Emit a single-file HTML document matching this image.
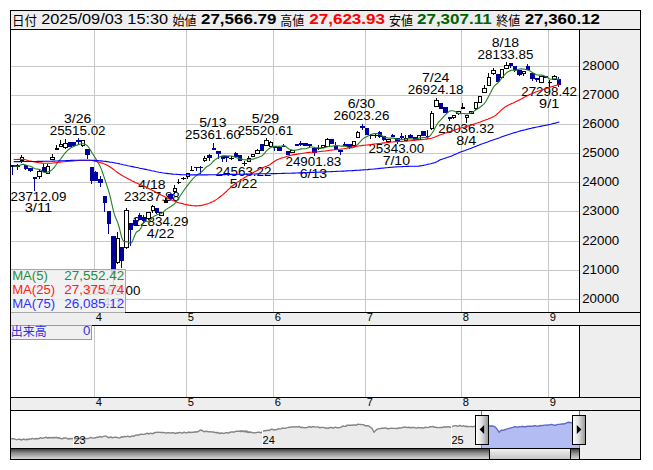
<!DOCTYPE html>
<html><head><meta charset="utf-8"><title>chart</title><style>html,body{margin:0;padding:0;background:#fff}svg{display:block}</style></head><body>
<svg width="653" height="470" viewBox="0 0 653 470" font-family="'Liberation Sans', sans-serif">
<defs><linearGradient id="gh" x1="0" y1="0" x2="1" y2="0"><stop offset="0" stop-color="#ffffff"/><stop offset="0.45" stop-color="#e2e2e2"/><stop offset="1" stop-color="#949494"/></linearGradient><linearGradient id="gs" x1="0" y1="0" x2="0" y2="1"><stop offset="0" stop-color="#2a2a2a"/><stop offset="0.45" stop-color="#8a8a8a"/><stop offset="1" stop-color="#d8d8d8"/></linearGradient><linearGradient id="gt" x1="0" y1="0" x2="0" y2="1"><stop offset="0" stop-color="#f4f4f4"/><stop offset="1" stop-color="#c4c4c4"/></linearGradient></defs>
<rect width="653" height="470" fill="#fff"/>
<rect x="10" y="10" width="631" height="450" fill="#eeeeee"/>
<rect x="11" y="30" width="568" height="282" fill="#fff"/>
<rect x="11" y="326" width="568" height="71" fill="#fff"/>
<rect x="11" y="411" width="568" height="37" fill="#fff"/>
<g stroke="#c8c8c8" stroke-width="1" shape-rendering="crispEdges">
<line x1="11" x2="579" y1="299.5" y2="299.5"/>
<line x1="11" x2="579" y1="270.5" y2="270.5"/>
<line x1="11" x2="579" y1="241.5" y2="241.5"/>
<line x1="11" x2="579" y1="211.5" y2="211.5"/>
<line x1="11" x2="579" y1="182.5" y2="182.5"/>
<line x1="11" x2="579" y1="153.5" y2="153.5"/>
<line x1="11" x2="579" y1="124.5" y2="124.5"/>
<line x1="11" x2="579" y1="95.5" y2="95.5"/>
<line x1="11" x2="579" y1="66.5" y2="66.5"/>
<line x1="94.5" x2="94.5" y1="30" y2="312"/>
<line x1="94.5" x2="94.5" y1="326" y2="397"/>
<line x1="186.5" x2="186.5" y1="30" y2="312"/>
<line x1="186.5" x2="186.5" y1="326" y2="397"/>
<line x1="273.5" x2="273.5" y1="30" y2="312"/>
<line x1="273.5" x2="273.5" y1="326" y2="397"/>
<line x1="365.5" x2="365.5" y1="30" y2="312"/>
<line x1="365.5" x2="365.5" y1="326" y2="397"/>
<line x1="461.5" x2="461.5" y1="30" y2="312"/>
<line x1="461.5" x2="461.5" y1="326" y2="397"/>
<line x1="548.5" x2="548.5" y1="30" y2="312"/>
<line x1="548.5" x2="548.5" y1="326" y2="397"/>
</g>
<text x="49.72" y="134.90" font-size="12.01" fill="#000" textLength="55.84" lengthAdjust="spacingAndGlyphs">25515.02</text>
<text x="63.94" y="122.80" font-size="12.01" fill="#000" textLength="27.39" lengthAdjust="spacingAndGlyphs">3/26</text>
<text x="10.50" y="200.60" font-size="12.01" fill="#000" textLength="55.84" lengthAdjust="spacingAndGlyphs">23712.09</text>
<text x="24.72" y="212.40" font-size="12.01" fill="#000" textLength="27.39" lengthAdjust="spacingAndGlyphs">3/11</text>
<text x="84.64" y="295.00" font-size="12.01" fill="#000" textLength="55.84" lengthAdjust="spacingAndGlyphs">20463.00</text>
<text x="102.56" y="306.80" font-size="12.01" fill="#000" textLength="20.02" lengthAdjust="spacingAndGlyphs">4/7</text>
<text x="123.94" y="201.20" font-size="12.01" fill="#000" textLength="55.84" lengthAdjust="spacingAndGlyphs">23237.88</text>
<text x="138.16" y="189.10" font-size="12.01" fill="#000" textLength="27.39" lengthAdjust="spacingAndGlyphs">4/18</text>
<text x="132.67" y="226.10" font-size="12.01" fill="#000" textLength="55.84" lengthAdjust="spacingAndGlyphs">22834.29</text>
<text x="146.89" y="237.90" font-size="12.01" fill="#000" textLength="27.39" lengthAdjust="spacingAndGlyphs">4/22</text>
<text x="185.06" y="139.40" font-size="12.01" fill="#000" textLength="55.84" lengthAdjust="spacingAndGlyphs">25361.60</text>
<text x="199.28" y="127.30" font-size="12.01" fill="#000" textLength="27.39" lengthAdjust="spacingAndGlyphs">5/13</text>
<text x="215.62" y="175.80" font-size="12.01" fill="#000" textLength="55.84" lengthAdjust="spacingAndGlyphs">24563.22</text>
<text x="229.84" y="187.60" font-size="12.01" fill="#000" textLength="27.39" lengthAdjust="spacingAndGlyphs">5/22</text>
<text x="237.45" y="134.80" font-size="12.01" fill="#000" textLength="55.84" lengthAdjust="spacingAndGlyphs">25520.61</text>
<text x="251.67" y="122.70" font-size="12.01" fill="#000" textLength="27.39" lengthAdjust="spacingAndGlyphs">5/29</text>
<text x="285.47" y="166.00" font-size="12.01" fill="#000" textLength="55.84" lengthAdjust="spacingAndGlyphs">24901.83</text>
<text x="299.70" y="177.80" font-size="12.01" fill="#000" textLength="27.39" lengthAdjust="spacingAndGlyphs">6/13</text>
<text x="333.50" y="120.20" font-size="12.01" fill="#000" textLength="55.84" lengthAdjust="spacingAndGlyphs">26023.26</text>
<text x="347.72" y="108.10" font-size="12.01" fill="#000" textLength="27.39" lengthAdjust="spacingAndGlyphs">6/30</text>
<text x="368.42" y="153.10" font-size="12.01" fill="#000" textLength="55.84" lengthAdjust="spacingAndGlyphs">25343.00</text>
<text x="382.65" y="164.90" font-size="12.01" fill="#000" textLength="27.39" lengthAdjust="spacingAndGlyphs">7/10</text>
<text x="407.71" y="94.00" font-size="12.01" fill="#000" textLength="55.84" lengthAdjust="spacingAndGlyphs">26924.18</text>
<text x="421.94" y="81.90" font-size="12.01" fill="#000" textLength="27.39" lengthAdjust="spacingAndGlyphs">7/24</text>
<text x="438.28" y="133.00" font-size="12.01" fill="#000" textLength="55.84" lengthAdjust="spacingAndGlyphs">26036.32</text>
<text x="456.19" y="144.80" font-size="12.01" fill="#000" textLength="20.02" lengthAdjust="spacingAndGlyphs">8/4</text>
<text x="477.57" y="58.70" font-size="12.01" fill="#000" textLength="55.84" lengthAdjust="spacingAndGlyphs">28133.85</text>
<text x="491.79" y="46.60" font-size="12.01" fill="#000" textLength="27.39" lengthAdjust="spacingAndGlyphs">8/18</text>
<text x="521.23" y="96.30" font-size="12.01" fill="#000" textLength="55.84" lengthAdjust="spacingAndGlyphs">27298.42</text>
<text x="539.14" y="108.10" font-size="12.01" fill="#000" textLength="20.02" lengthAdjust="spacingAndGlyphs">9/1</text>
<g shape-rendering="crispEdges">
<rect x="12" y="165" width="1" height="10" fill="#0000a0"/>
<rect x="11" y="165" width="4" height="2" fill="#0000a0"/>
<rect x="17" y="164" width="1" height="6" fill="#000"/>
<rect x="15" y="165" width="5" height="2" fill="#000"/>
<rect x="21" y="155" width="1" height="8" fill="#000"/>
<rect x="20" y="157" width="4" height="4" fill="#000"/>
<rect x="21" y="158" width="2" height="2" fill="#fff"/>
<rect x="25" y="165" width="1" height="5" fill="#0000a0"/>
<rect x="24" y="165" width="4" height="4" fill="#0000a0"/>
<rect x="30" y="168" width="1" height="4" fill="#0000a0"/>
<rect x="28" y="168" width="5" height="3" fill="#0000a0"/>
<rect x="34" y="177" width="1" height="14" fill="#0000a0"/>
<rect x="33" y="177" width="4" height="2" fill="#0000a0"/>
<rect x="39" y="170" width="1" height="9" fill="#000"/>
<rect x="37" y="171" width="5" height="6" fill="#000"/>
<rect x="38" y="172" width="3" height="4" fill="#fff"/>
<rect x="43" y="164" width="1" height="8" fill="#0000a0"/>
<rect x="42" y="167" width="4" height="5" fill="#0000a0"/>
<rect x="47" y="164" width="1" height="10" fill="#000"/>
<rect x="46" y="166" width="4" height="8" fill="#000"/>
<rect x="47" y="167" width="2" height="6" fill="#fff"/>
<rect x="52" y="154" width="1" height="6" fill="#000"/>
<rect x="50" y="157" width="5" height="3" fill="#000"/>
<rect x="51" y="158" width="3" height="1" fill="#fff"/>
<rect x="56" y="145" width="1" height="5" fill="#000"/>
<rect x="55" y="148" width="4" height="2" fill="#000"/>
<rect x="60" y="140" width="1" height="7" fill="#000"/>
<rect x="59" y="144" width="4" height="3" fill="#000"/>
<rect x="60" y="145" width="2" height="1" fill="#fff"/>
<rect x="65" y="139" width="1" height="10" fill="#000"/>
<rect x="63" y="143" width="5" height="5" fill="#000"/>
<rect x="64" y="144" width="3" height="3" fill="#fff"/>
<rect x="69" y="142" width="1" height="5" fill="#0000a0"/>
<rect x="68" y="142" width="4" height="5" fill="#0000a0"/>
<rect x="73" y="142" width="1" height="5" fill="#0000a0"/>
<rect x="72" y="142" width="4" height="4" fill="#0000a0"/>
<rect x="78" y="138" width="1" height="6" fill="#0000a0"/>
<rect x="76" y="140" width="5" height="2" fill="#0000a0"/>
<rect x="82" y="140" width="1" height="7" fill="#000"/>
<rect x="81" y="140" width="4" height="6" fill="#000"/>
<rect x="82" y="141" width="2" height="4" fill="#fff"/>
<rect x="87" y="149" width="1" height="10" fill="#0000a0"/>
<rect x="85" y="149" width="5" height="6" fill="#0000a0"/>
<rect x="91" y="167" width="1" height="17" fill="#0000a0"/>
<rect x="90" y="167" width="4" height="14" fill="#0000a0"/>
<rect x="95" y="171" width="1" height="10" fill="#0000a0"/>
<rect x="94" y="172" width="4" height="9" fill="#0000a0"/>
<rect x="100" y="176" width="1" height="11" fill="#0000a0"/>
<rect x="98" y="179" width="5" height="4" fill="#0000a0"/>
<rect x="104" y="196" width="1" height="16" fill="#0000a0"/>
<rect x="103" y="196" width="4" height="7" fill="#0000a0"/>
<rect x="108" y="211" width="1" height="23" fill="#0000a0"/>
<rect x="107" y="211" width="4" height="13" fill="#0000a0"/>
<rect x="113" y="236" width="1" height="49" fill="#0000a0"/>
<rect x="111" y="236" width="5" height="38" fill="#0000a0"/>
<rect x="117" y="232" width="1" height="32" fill="#000"/>
<rect x="116" y="238" width="4" height="25" fill="#000"/>
<rect x="117" y="239" width="2" height="23" fill="#fff"/>
<rect x="121" y="247" width="1" height="21" fill="#0000a0"/>
<rect x="120" y="247" width="4" height="14" fill="#0000a0"/>
<rect x="126" y="208" width="1" height="41" fill="#000"/>
<rect x="124" y="210" width="5" height="38" fill="#000"/>
<rect x="125" y="211" width="3" height="36" fill="#fff"/>
<rect x="130" y="223" width="1" height="23" fill="#0000a0"/>
<rect x="129" y="223" width="4" height="7" fill="#0000a0"/>
<rect x="135" y="218" width="1" height="7" fill="#0000a0"/>
<rect x="133" y="220" width="5" height="5" fill="#0000a0"/>
<rect x="139" y="213" width="1" height="7" fill="#0000a0"/>
<rect x="138" y="215" width="4" height="5" fill="#0000a0"/>
<rect x="143" y="215" width="1" height="8" fill="#0000a0"/>
<rect x="142" y="217" width="4" height="4" fill="#0000a0"/>
<rect x="148" y="212" width="1" height="8" fill="#000"/>
<rect x="146" y="212" width="5" height="7" fill="#000"/>
<rect x="147" y="213" width="3" height="5" fill="#fff"/>
<rect x="152" y="205" width="1" height="8" fill="#000"/>
<rect x="151" y="206" width="4" height="5" fill="#000"/>
<rect x="152" y="207" width="2" height="3" fill="#fff"/>
<rect x="156" y="208" width="1" height="6" fill="#0000a0"/>
<rect x="155" y="208" width="4" height="5" fill="#0000a0"/>
<rect x="161" y="212" width="1" height="4" fill="#000"/>
<rect x="159" y="212" width="5" height="4" fill="#000"/>
<rect x="160" y="213" width="3" height="2" fill="#fff"/>
<rect x="165" y="198" width="1" height="5" fill="#000"/>
<rect x="164" y="200" width="4" height="3" fill="#000"/>
<rect x="170" y="194" width="1" height="5" fill="#0000a0"/>
<rect x="168" y="194" width="5" height="5" fill="#0000a0"/>
<rect x="174" y="185" width="1" height="9" fill="#000"/>
<rect x="173" y="188" width="4" height="4" fill="#000"/>
<rect x="174" y="189" width="2" height="2" fill="#fff"/>
<rect x="178" y="179" width="1" height="5" fill="#000"/>
<rect x="177" y="182" width="4" height="1" fill="#000"/>
<rect x="183" y="177" width="1" height="3" fill="#000"/>
<rect x="181" y="178" width="5" height="1" fill="#000"/>
<rect x="187" y="173" width="1" height="6" fill="#000"/>
<rect x="186" y="173" width="4" height="4" fill="#000"/>
<rect x="187" y="174" width="2" height="2" fill="#fff"/>
<rect x="191" y="166" width="1" height="5" fill="#000"/>
<rect x="190" y="170" width="4" height="1" fill="#000"/>
<rect x="196" y="167" width="1" height="4" fill="#0000a0"/>
<rect x="194" y="167" width="5" height="1" fill="#0000a0"/>
<rect x="200" y="166" width="1" height="8" fill="#0000a0"/>
<rect x="199" y="167" width="4" height="1" fill="#0000a0"/>
<rect x="204" y="156" width="1" height="6" fill="#000"/>
<rect x="203" y="158" width="4" height="3" fill="#000"/>
<rect x="204" y="159" width="2" height="1" fill="#fff"/>
<rect x="209" y="154" width="1" height="7" fill="#0000a0"/>
<rect x="207" y="155" width="5" height="3" fill="#0000a0"/>
<rect x="213" y="143" width="1" height="7" fill="#0000a0"/>
<rect x="212" y="148" width="4" height="2" fill="#0000a0"/>
<rect x="218" y="151" width="1" height="8" fill="#0000a0"/>
<rect x="216" y="151" width="5" height="3" fill="#0000a0"/>
<rect x="222" y="156" width="1" height="6" fill="#0000a0"/>
<rect x="221" y="156" width="4" height="3" fill="#0000a0"/>
<rect x="226" y="156" width="1" height="6" fill="#0000a0"/>
<rect x="225" y="156" width="4" height="2" fill="#0000a0"/>
<rect x="231" y="156" width="1" height="4" fill="#000"/>
<rect x="229" y="158" width="5" height="1" fill="#000"/>
<rect x="235" y="152" width="1" height="6" fill="#0000a0"/>
<rect x="234" y="153" width="4" height="4" fill="#0000a0"/>
<rect x="239" y="155" width="1" height="6" fill="#0000a0"/>
<rect x="238" y="155" width="4" height="6" fill="#0000a0"/>
<rect x="244" y="161" width="1" height="5" fill="#000"/>
<rect x="242" y="163" width="5" height="1" fill="#000"/>
<rect x="248" y="156" width="1" height="6" fill="#000"/>
<rect x="247" y="158" width="4" height="4" fill="#000"/>
<rect x="248" y="159" width="2" height="2" fill="#fff"/>
<rect x="252" y="154" width="1" height="3" fill="#000"/>
<rect x="251" y="154" width="4" height="3" fill="#000"/>
<rect x="252" y="155" width="2" height="1" fill="#fff"/>
<rect x="257" y="149" width="1" height="5" fill="#000"/>
<rect x="255" y="150" width="5" height="4" fill="#000"/>
<rect x="256" y="151" width="3" height="2" fill="#fff"/>
<rect x="261" y="144" width="1" height="7" fill="#0000a0"/>
<rect x="260" y="144" width="4" height="7" fill="#0000a0"/>
<rect x="266" y="138" width="1" height="8" fill="#000"/>
<rect x="264" y="140" width="5" height="6" fill="#000"/>
<rect x="265" y="141" width="3" height="4" fill="#fff"/>
<rect x="270" y="141" width="1" height="6" fill="#000"/>
<rect x="269" y="142" width="4" height="5" fill="#000"/>
<rect x="270" y="143" width="2" height="3" fill="#fff"/>
<rect x="274" y="146" width="1" height="5" fill="#0000a0"/>
<rect x="273" y="146" width="4" height="2" fill="#0000a0"/>
<rect x="279" y="147" width="1" height="4" fill="#0000a0"/>
<rect x="277" y="147" width="5" height="4" fill="#0000a0"/>
<rect x="283" y="144" width="1" height="3" fill="#0000a0"/>
<rect x="282" y="146" width="4" height="1" fill="#0000a0"/>
<rect x="287" y="151" width="1" height="4" fill="#0000a0"/>
<rect x="286" y="151" width="4" height="4" fill="#0000a0"/>
<rect x="292" y="150" width="1" height="3" fill="#000"/>
<rect x="290" y="150" width="5" height="3" fill="#000"/>
<rect x="291" y="151" width="3" height="1" fill="#fff"/>
<rect x="296" y="144" width="1" height="2" fill="#0000a0"/>
<rect x="295" y="144" width="4" height="2" fill="#0000a0"/>
<rect x="300" y="141" width="1" height="5" fill="#0000a0"/>
<rect x="299" y="143" width="4" height="2" fill="#0000a0"/>
<rect x="305" y="143" width="1" height="3" fill="#0000a0"/>
<rect x="303" y="143" width="5" height="3" fill="#0000a0"/>
<rect x="309" y="144" width="1" height="4" fill="#0000a0"/>
<rect x="308" y="144" width="4" height="2" fill="#0000a0"/>
<rect x="314" y="148" width="1" height="8" fill="#0000a0"/>
<rect x="312" y="148" width="5" height="5" fill="#0000a0"/>
<rect x="318" y="145" width="1" height="5" fill="#000"/>
<rect x="317" y="148" width="4" height="1" fill="#000"/>
<rect x="322" y="145" width="1" height="3" fill="#000"/>
<rect x="321" y="145" width="4" height="3" fill="#000"/>
<rect x="322" y="146" width="2" height="1" fill="#fff"/>
<rect x="327" y="138" width="1" height="9" fill="#000"/>
<rect x="325" y="139" width="5" height="8" fill="#000"/>
<rect x="326" y="140" width="3" height="6" fill="#fff"/>
<rect x="331" y="139" width="1" height="5" fill="#0000a0"/>
<rect x="330" y="139" width="4" height="5" fill="#0000a0"/>
<rect x="335" y="142" width="1" height="8" fill="#0000a0"/>
<rect x="334" y="146" width="4" height="4" fill="#0000a0"/>
<rect x="340" y="150" width="1" height="5" fill="#0000a0"/>
<rect x="338" y="150" width="5" height="2" fill="#0000a0"/>
<rect x="344" y="142" width="1" height="4" fill="#0000a0"/>
<rect x="343" y="144" width="4" height="2" fill="#0000a0"/>
<rect x="349" y="144" width="1" height="5" fill="#0000a0"/>
<rect x="347" y="144" width="5" height="3" fill="#0000a0"/>
<rect x="353" y="141" width="1" height="5" fill="#000"/>
<rect x="352" y="141" width="4" height="5" fill="#000"/>
<rect x="353" y="142" width="2" height="3" fill="#fff"/>
<rect x="357" y="131" width="1" height="7" fill="#000"/>
<rect x="356" y="132" width="4" height="6" fill="#000"/>
<rect x="357" y="133" width="2" height="4" fill="#fff"/>
<rect x="362" y="124" width="1" height="6" fill="#0000a0"/>
<rect x="360" y="126" width="5" height="2" fill="#0000a0"/>
<rect x="366" y="128" width="1" height="7" fill="#0000a0"/>
<rect x="365" y="128" width="4" height="7" fill="#0000a0"/>
<rect x="370" y="134" width="1" height="5" fill="#000"/>
<rect x="369" y="135" width="4" height="1" fill="#000"/>
<rect x="375" y="134" width="1" height="4" fill="#000"/>
<rect x="373" y="135" width="5" height="1" fill="#000"/>
<rect x="379" y="131" width="1" height="7" fill="#0000a0"/>
<rect x="378" y="132" width="4" height="5" fill="#0000a0"/>
<rect x="383" y="136" width="1" height="5" fill="#0000a0"/>
<rect x="382" y="136" width="4" height="4" fill="#0000a0"/>
<rect x="388" y="139" width="1" height="3" fill="#000"/>
<rect x="386" y="139" width="5" height="3" fill="#000"/>
<rect x="387" y="140" width="3" height="1" fill="#fff"/>
<rect x="392" y="134" width="1" height="3" fill="#0000a0"/>
<rect x="391" y="135" width="4" height="2" fill="#0000a0"/>
<rect x="397" y="138" width="1" height="6" fill="#0000a0"/>
<rect x="395" y="138" width="5" height="4" fill="#0000a0"/>
<rect x="401" y="133" width="1" height="6" fill="#0000a0"/>
<rect x="400" y="136" width="4" height="2" fill="#0000a0"/>
<rect x="405" y="135" width="1" height="6" fill="#000"/>
<rect x="404" y="138" width="4" height="3" fill="#000"/>
<rect x="405" y="139" width="2" height="1" fill="#fff"/>
<rect x="410" y="134" width="1" height="4" fill="#0000a0"/>
<rect x="408" y="135" width="5" height="3" fill="#0000a0"/>
<rect x="414" y="137" width="1" height="4" fill="#0000a0"/>
<rect x="413" y="137" width="4" height="3" fill="#0000a0"/>
<rect x="418" y="135" width="1" height="5" fill="#000"/>
<rect x="417" y="135" width="4" height="5" fill="#000"/>
<rect x="418" y="136" width="2" height="3" fill="#fff"/>
<rect x="423" y="131" width="1" height="5" fill="#0000a0"/>
<rect x="421" y="131" width="5" height="5" fill="#0000a0"/>
<rect x="427" y="130" width="1" height="9" fill="#0000a0"/>
<rect x="426" y="136" width="4" height="1" fill="#0000a0"/>
<rect x="431" y="111" width="1" height="19" fill="#000"/>
<rect x="430" y="113" width="4" height="16" fill="#000"/>
<rect x="431" y="114" width="2" height="14" fill="#fff"/>
<rect x="436" y="98" width="1" height="9" fill="#000"/>
<rect x="434" y="100" width="5" height="7" fill="#000"/>
<rect x="435" y="101" width="3" height="5" fill="#fff"/>
<rect x="440" y="103" width="1" height="6" fill="#0000a0"/>
<rect x="439" y="103" width="4" height="6" fill="#0000a0"/>
<rect x="445" y="107" width="1" height="6" fill="#0000a0"/>
<rect x="443" y="107" width="5" height="6" fill="#0000a0"/>
<rect x="449" y="117" width="1" height="4" fill="#0000a0"/>
<rect x="448" y="117" width="4" height="2" fill="#0000a0"/>
<rect x="453" y="115" width="1" height="4" fill="#000"/>
<rect x="452" y="115" width="4" height="3" fill="#000"/>
<rect x="453" y="116" width="2" height="1" fill="#fff"/>
<rect x="458" y="111" width="1" height="4" fill="#000"/>
<rect x="456" y="111" width="5" height="3" fill="#000"/>
<rect x="457" y="112" width="3" height="1" fill="#fff"/>
<rect x="462" y="103" width="1" height="6" fill="#000"/>
<rect x="461" y="107" width="4" height="2" fill="#000"/>
<rect x="466" y="115" width="1" height="8" fill="#000"/>
<rect x="465" y="115" width="4" height="3" fill="#000"/>
<rect x="466" y="116" width="2" height="1" fill="#fff"/>
<rect x="471" y="111" width="1" height="3" fill="#000"/>
<rect x="469" y="111" width="5" height="3" fill="#000"/>
<rect x="470" y="112" width="3" height="1" fill="#fff"/>
<rect x="475" y="102" width="1" height="8" fill="#000"/>
<rect x="474" y="102" width="4" height="7" fill="#000"/>
<rect x="475" y="103" width="2" height="5" fill="#fff"/>
<rect x="479" y="96" width="1" height="7" fill="#000"/>
<rect x="478" y="96" width="4" height="7" fill="#000"/>
<rect x="479" y="97" width="2" height="5" fill="#fff"/>
<rect x="484" y="85" width="1" height="8" fill="#000"/>
<rect x="482" y="88" width="5" height="5" fill="#000"/>
<rect x="483" y="89" width="3" height="3" fill="#fff"/>
<rect x="488" y="73" width="1" height="13" fill="#000"/>
<rect x="487" y="77" width="4" height="9" fill="#000"/>
<rect x="488" y="78" width="2" height="7" fill="#fff"/>
<rect x="493" y="68" width="1" height="7" fill="#000"/>
<rect x="491" y="70" width="5" height="4" fill="#000"/>
<rect x="492" y="71" width="3" height="2" fill="#fff"/>
<rect x="497" y="74" width="1" height="8" fill="#0000a0"/>
<rect x="496" y="74" width="4" height="8" fill="#0000a0"/>
<rect x="501" y="69" width="1" height="9" fill="#000"/>
<rect x="500" y="69" width="4" height="9" fill="#000"/>
<rect x="501" y="70" width="2" height="7" fill="#fff"/>
<rect x="506" y="62" width="1" height="7" fill="#000"/>
<rect x="504" y="65" width="5" height="4" fill="#000"/>
<rect x="505" y="66" width="3" height="2" fill="#fff"/>
<rect x="510" y="63" width="1" height="5" fill="#0000a0"/>
<rect x="509" y="63" width="4" height="3" fill="#0000a0"/>
<rect x="514" y="66" width="1" height="6" fill="#0000a0"/>
<rect x="513" y="66" width="4" height="4" fill="#0000a0"/>
<rect x="519" y="70" width="1" height="6" fill="#0000a0"/>
<rect x="517" y="70" width="5" height="5" fill="#0000a0"/>
<rect x="523" y="71" width="1" height="5" fill="#000"/>
<rect x="522" y="71" width="4" height="3" fill="#000"/>
<rect x="523" y="72" width="2" height="1" fill="#fff"/>
<rect x="527" y="64" width="1" height="6" fill="#0000a0"/>
<rect x="526" y="66" width="4" height="4" fill="#0000a0"/>
<rect x="532" y="73" width="1" height="8" fill="#0000a0"/>
<rect x="530" y="73" width="5" height="6" fill="#0000a0"/>
<rect x="536" y="78" width="1" height="4" fill="#0000a0"/>
<rect x="535" y="78" width="4" height="2" fill="#0000a0"/>
<rect x="541" y="76" width="1" height="7" fill="#000"/>
<rect x="539" y="76" width="5" height="7" fill="#000"/>
<rect x="540" y="77" width="3" height="5" fill="#fff"/>
<rect x="545" y="76" width="1" height="2" fill="#0000a0"/>
<rect x="544" y="76" width="4" height="2" fill="#0000a0"/>
<rect x="549" y="80" width="1" height="7" fill="#000"/>
<rect x="548" y="82" width="4" height="1" fill="#000"/>
<rect x="554" y="75" width="1" height="5" fill="#000"/>
<rect x="552" y="76" width="5" height="4" fill="#000"/>
<rect x="553" y="77" width="3" height="2" fill="#fff"/>
<rect x="558" y="77" width="1" height="10" fill="#0000a0"/>
<rect x="557" y="79" width="4" height="6" fill="#0000a0"/>
</g>
<polyline fill="none" stroke="#1e821e" stroke-width="1.1" stroke-linejoin="round" points="13.6,165.9 14.6,166.0 15.6,166.1 16.6,166.2 17.6,166.2 18.6,166.0 19.6,165.5 20.6,165.0 21.6,164.5 22.6,164.3 23.6,164.4 24.6,164.7 25.6,165.0 26.6,165.3 27.6,165.5 28.6,165.8 29.6,166.0 30.6,166.4 31.6,166.8 32.6,167.3 33.6,167.9 34.6,168.4 35.6,168.8 36.6,169.0 37.6,169.1 38.6,169.2 39.6,169.4 40.6,169.9 41.6,170.7 42.6,171.6 43.6,172.2 44.6,172.5 45.6,172.6 46.6,172.4 47.6,172.1 48.6,171.7 49.6,171.3 50.6,170.7 51.6,170.1 52.6,169.2 53.6,168.2 54.6,166.9 55.6,165.5 56.6,164.0 57.6,162.7 58.6,161.5 59.6,160.2 60.6,159.0 61.6,157.7 62.6,156.4 63.6,155.0 64.6,153.7 65.6,152.4 66.6,151.3 67.6,150.4 68.6,149.5 69.6,148.7 70.6,148.0 71.6,147.4 72.6,146.9 73.6,146.5 74.6,146.1 75.6,145.7 76.6,145.3 77.6,144.9 78.6,144.6 79.6,144.3 80.6,144.0 81.6,143.8 82.6,143.7 83.6,143.8 84.6,144.1 85.6,144.5 86.6,145.1 87.6,146.0 88.6,147.2 89.6,148.7 90.6,150.4 91.6,152.1 92.6,153.7 93.6,155.2 94.6,156.8 95.6,158.4 96.6,160.1 97.6,161.8 98.6,163.5 99.6,165.3 100.6,167.4 101.6,169.9 102.6,172.7 103.6,175.6 104.6,178.7 105.6,181.7 106.6,184.7 107.6,187.7 108.6,190.8 109.6,194.3 110.6,198.3 111.6,202.9 112.6,207.4 113.6,211.6 114.6,214.9 115.6,217.6 116.6,219.9 117.6,222.4 118.6,225.3 119.6,229.0 120.6,233.1 121.6,237.0 122.6,239.8 123.6,241.3 124.6,241.7 125.6,241.6 126.6,241.5 127.6,241.8 128.6,242.4 129.6,243.1 130.6,243.3 131.6,242.7 132.6,240.9 133.6,238.4 134.6,235.7 135.6,233.4 136.6,232.0 137.6,231.2 138.6,230.7 139.6,229.9 140.6,228.7 141.6,226.8 142.6,224.6 143.6,222.7 144.6,221.4 145.6,221.0 146.6,221.3 147.6,221.8 148.6,221.9 149.6,221.3 150.6,220.2 151.6,218.8 152.6,217.5 153.6,216.6 154.6,215.9 155.6,215.4 156.6,215.0 157.6,214.6 158.6,214.2 159.6,214.0 160.6,213.7 161.6,213.3 162.6,212.7 163.6,211.8 164.6,210.9 165.6,209.9 166.6,209.1 167.6,208.5 168.6,207.9 169.6,207.3 170.6,206.7 171.6,206.0 172.6,205.3 173.6,204.6 174.6,203.7 175.6,202.6 176.6,201.3 177.6,199.8 178.6,198.3 179.6,196.8 180.6,195.3 181.6,193.8 182.6,192.3 183.6,190.8 184.6,189.4 185.6,188.0 186.6,186.7 187.6,185.4 188.6,184.1 189.6,182.8 190.6,181.5 191.6,180.3 192.6,179.1 193.6,178.0 194.6,177.1 195.6,176.2 196.6,175.3 197.6,174.5 198.6,173.9 199.6,173.3 200.6,172.6 201.6,171.8 202.6,170.8 203.6,169.8 204.6,168.7 205.6,167.7 206.6,166.9 207.6,166.3 208.6,165.7 209.6,165.0 210.6,164.1 211.6,163.1 212.6,162.0 213.6,161.0 214.6,160.1 215.6,159.4 216.6,158.7 217.6,158.1 218.6,157.6 219.6,157.1 220.6,156.6 221.6,156.2 222.6,155.9 223.6,155.8 224.6,155.7 225.6,155.8 226.6,155.9 227.6,156.0 228.6,156.0 229.6,155.9 230.6,156.0 231.6,156.0 232.6,156.3 233.6,156.6 234.6,157.0 235.6,157.4 236.6,157.8 237.6,158.1 238.6,158.4 239.6,158.7 240.6,158.9 241.6,159.2 242.6,159.4 243.6,159.7 244.6,159.8 245.6,159.9 246.6,159.9 247.6,159.9 248.6,159.8 249.6,159.7 250.6,159.5 251.6,159.3 252.6,159.1 253.6,158.9 254.6,158.6 255.6,158.2 256.6,157.9 257.6,157.5 258.6,157.2 259.6,156.8 260.6,156.5 261.6,156.0 262.6,155.3 263.6,154.3 264.6,153.1 265.6,151.8 266.6,150.7 267.6,149.8 268.6,149.0 269.6,148.3 270.6,147.7 271.6,147.3 272.6,146.9 273.6,146.6 274.6,146.4 275.6,146.3 276.6,146.2 277.6,146.3 278.6,146.4 279.6,146.4 280.6,146.3 281.6,146.0 282.6,145.7 283.6,145.6 284.6,145.7 285.6,146.3 286.6,147.1 287.6,148.0 288.6,148.7 289.6,149.2 290.6,149.6 291.6,149.9 292.6,150.2 293.6,150.3 294.6,150.3 295.6,150.2 296.6,150.0 297.6,149.8 298.6,149.6 299.6,149.3 300.6,149.1 301.6,148.9 302.6,148.8 303.6,148.8 304.6,148.8 305.6,148.8 306.6,148.5 307.6,148.1 308.6,147.7 309.6,147.2 310.6,147.0 311.6,147.0 312.6,147.1 313.6,147.3 314.6,147.5 315.6,147.7 316.6,147.8 317.6,147.9 318.6,148.0 319.6,148.1 320.6,148.1 321.6,148.1 322.6,148.1 323.6,148.0 324.6,147.7 325.6,147.4 326.6,147.0 327.6,146.7 328.6,146.5 329.6,146.4 330.6,146.3 331.6,146.2 332.6,146.1 333.6,145.9 334.6,145.7 335.6,145.6 336.6,145.5 337.6,145.6 338.6,145.7 339.6,145.9 340.6,146.0 341.6,146.1 342.6,146.1 343.6,146.1 344.6,146.2 345.6,146.3 346.6,146.7 347.6,147.1 348.6,147.6 349.6,147.8 350.6,147.9 351.6,147.9 352.6,147.8 353.6,147.5 354.6,147.0 355.6,146.3 356.6,145.4 357.6,144.5 358.6,143.5 359.6,142.4 360.6,141.3 361.6,140.1 362.6,139.1 363.6,138.4 364.6,137.8 365.6,137.3 366.6,136.8 367.6,136.3 368.6,135.8 369.6,135.3 370.6,134.8 371.6,134.4 372.6,134.1 373.6,133.8 374.6,133.6 375.6,133.5 376.6,133.6 377.6,133.8 378.6,134.0 379.6,134.4 380.6,134.8 381.6,135.3 382.6,136.0 383.6,136.6 384.6,137.1 385.6,137.4 386.6,137.7 387.6,137.9 388.6,138.0 389.6,138.1 390.6,138.1 391.6,138.1 392.6,138.1 393.6,138.1 394.6,138.4 395.6,138.7 396.6,139.0 397.6,139.2 398.6,139.4 399.6,139.4 400.6,139.5 401.6,139.5 402.6,139.4 403.6,139.3 404.6,139.2 405.6,139.1 406.6,139.0 407.6,138.9 408.6,138.9 409.6,138.9 410.6,138.9 411.6,138.9 412.6,139.1 413.6,139.3 414.6,139.4 415.6,139.3 416.6,139.0 417.6,138.6 418.6,138.2 419.6,137.9 420.6,137.8 421.6,137.7 422.6,137.6 423.6,137.5 424.6,137.5 425.6,137.6 426.6,137.7 427.6,137.6 428.6,137.1 429.6,136.2 430.6,135.1 431.6,133.8 432.6,132.4 433.6,130.7 434.6,128.8 435.6,126.9 436.6,125.0 437.6,123.5 438.6,122.2 439.6,121.1 440.6,120.0 441.6,118.9 442.6,117.8 443.6,116.7 444.6,115.7 445.6,114.7 446.6,113.7 447.6,112.7 448.6,111.9 449.6,111.2 450.6,110.8 451.6,110.7 452.6,110.8 453.6,111.0 454.6,111.3 455.6,111.8 456.6,112.3 457.6,112.9 458.6,113.4 459.6,113.6 460.6,113.6 461.6,113.5 462.6,113.5 463.6,113.5 464.6,113.6 465.6,113.8 466.6,113.9 467.6,113.9 468.6,113.7 469.6,113.3 470.6,112.9 471.6,112.4 472.6,111.9 473.6,111.4 474.6,110.7 475.6,110.1 476.6,109.5 477.6,108.9 478.6,108.2 479.6,107.5 480.6,106.8 481.6,106.0 482.6,105.2 483.6,104.3 484.6,103.2 485.6,101.8 486.6,100.2 487.6,98.3 488.6,96.4 489.6,94.6 490.6,92.7 491.6,90.6 492.6,88.7 493.6,87.0 494.6,85.7 495.6,84.8 496.6,84.0 497.6,83.1 498.6,82.1 499.6,80.9 500.6,79.6 501.6,78.3 502.6,77.1 503.6,75.9 504.6,74.8 505.6,73.7 506.6,72.8 507.6,72.0 508.6,71.4 509.6,70.9 510.6,70.6 511.6,70.3 512.6,70.2 513.6,70.3 514.6,70.4 515.6,70.4 516.6,70.1 517.6,69.7 518.6,69.3 519.6,69.0 520.6,68.9 521.6,68.9 522.6,69.0 523.6,69.1 524.6,69.3 525.6,69.5 526.6,69.7 527.6,69.9 528.6,70.3 529.6,70.7 530.6,71.3 531.6,72.0 532.6,72.6 533.6,73.2 534.6,73.7 535.6,74.2 536.6,74.7 537.6,75.0 538.6,75.1 539.6,75.1 540.6,75.0 541.6,75.1 542.6,75.3 543.6,75.6 544.6,76.0 545.6,76.4 546.6,76.9 547.6,77.5 548.6,78.2 549.6,78.9 550.6,79.3 551.6,79.3 552.6,79.1 553.6,78.9 554.6,78.8 555.6,78.8 556.6,79.0 557.6,79.3 558.6,79.6 559.4,79.8"/>
<polyline fill="none" stroke="#ff0000" stroke-width="1.1" stroke-linejoin="round" points="13.7,159.5 15.2,159.5 16.7,159.5 18.2,159.4 19.7,159.4 21.2,159.4 22.7,159.5 24.2,159.6 25.7,159.8 27.2,160.2 28.7,160.7 30.2,161.0 31.7,161.4 33.2,161.7 34.7,162.0 36.2,162.2 37.7,162.5 39.2,162.8 40.7,162.9 42.2,163.1 43.7,163.2 45.2,163.3 46.7,163.3 48.2,163.3 49.7,163.3 51.2,163.2 52.7,163.0 54.2,162.9 55.7,162.7 57.2,162.5 58.7,162.3 60.2,162.1 61.7,162.0 63.2,161.8 64.7,161.7 66.2,161.5 67.7,161.4 69.2,161.2 70.7,161.1 72.2,161.0 73.7,160.9 75.2,160.8 76.7,160.7 78.2,160.5 79.7,160.4 81.2,160.3 82.7,160.2 84.2,160.2 85.7,160.2 87.2,160.2 88.7,160.2 90.2,160.3 91.7,160.5 93.2,160.7 94.7,161.1 96.2,161.5 97.7,161.9 99.2,162.3 100.7,162.7 102.2,163.1 103.7,163.7 105.2,164.3 106.7,165.0 108.2,165.8 109.7,166.7 111.2,167.7 112.7,168.8 114.2,169.9 115.7,171.1 117.2,172.2 118.7,173.3 120.2,174.3 121.7,175.2 123.2,176.1 124.7,176.9 126.2,177.8 127.7,178.6 129.2,179.4 130.7,180.1 132.2,180.9 133.7,181.6 135.2,182.4 136.7,183.1 138.2,183.7 139.7,184.4 141.2,185.0 142.7,185.7 144.2,186.3 145.7,187.0 147.2,187.7 148.7,188.4 150.2,189.2 151.7,190.0 153.2,190.8 154.7,191.6 156.2,192.4 157.7,193.2 159.2,194.0 160.7,194.8 162.2,195.5 163.7,196.3 165.2,197.1 166.7,197.8 168.2,198.5 169.7,199.2 171.2,199.8 172.7,200.5 174.2,201.1 175.7,201.6 177.2,202.2 178.7,202.7 180.2,203.1 181.7,203.5 183.2,203.9 184.7,204.3 186.2,204.6 187.7,204.9 189.2,205.2 190.7,205.4 192.2,205.7 193.7,205.8 195.2,205.9 196.7,205.9 198.2,205.8 199.7,205.6 201.2,205.4 202.7,205.1 204.2,204.7 205.7,204.3 207.2,203.9 208.7,203.4 210.2,202.8 211.7,202.1 213.2,201.4 214.7,200.6 216.2,199.6 217.7,198.6 219.2,197.5 220.7,196.3 222.2,195.1 223.7,193.8 225.2,192.5 226.7,191.1 228.2,189.7 229.7,188.3 231.2,187.0 232.7,185.7 234.2,184.5 235.7,183.4 237.2,182.4 238.7,181.4 240.2,180.4 241.7,179.4 243.2,178.5 244.7,177.5 246.2,176.6 247.7,175.8 249.2,174.9 250.7,174.0 252.2,173.2 253.7,172.3 255.2,171.5 256.7,170.7 258.2,169.9 259.7,169.1 261.2,168.4 262.7,167.7 264.2,167.1 265.7,166.5 267.2,165.9 268.7,165.2 270.2,164.4 271.7,163.3 273.2,162.2 274.7,161.2 276.2,160.3 277.7,159.5 279.2,158.9 280.7,158.3 282.2,157.9 283.7,157.5 285.2,157.0 286.7,156.5 288.2,156.0 289.7,155.6 291.2,155.2 292.7,154.9 294.2,154.6 295.7,154.4 297.2,154.1 298.7,153.9 300.2,153.7 301.7,153.5 303.2,153.2 304.7,153.0 306.2,152.8 307.7,152.6 309.2,152.4 310.7,152.3 312.2,152.3 313.7,152.1 315.2,152.0 316.7,151.9 318.2,151.7 319.7,151.5 321.2,151.4 322.7,151.2 324.2,151.0 325.7,150.9 327.2,150.7 328.7,150.5 330.2,150.3 331.7,150.1 333.2,150.0 334.7,149.8 336.2,149.6 337.7,149.5 339.2,149.3 340.7,149.2 342.2,149.0 343.7,148.8 345.2,148.5 346.7,148.3 348.2,147.9 349.7,147.6 351.2,147.2 352.7,146.9 354.2,146.6 355.7,146.4 357.2,146.2 358.7,146.0 360.2,145.8 361.7,145.6 363.2,145.4 364.7,145.2 366.2,145.0 367.7,144.9 369.2,144.7 370.7,144.5 372.2,144.3 373.7,144.1 375.2,144.0 376.7,143.8 378.2,143.6 379.7,143.5 381.2,143.3 382.7,143.1 384.2,142.9 385.7,142.7 387.2,142.5 388.7,142.4 390.2,142.2 391.7,142.0 393.2,141.9 394.7,141.7 396.2,141.6 397.7,141.5 399.2,141.5 400.7,141.4 402.2,141.4 403.7,141.3 405.2,141.2 406.7,141.1 408.2,141.0 409.7,140.8 411.2,140.7 412.7,140.5 414.2,140.3 415.7,140.2 417.2,140.0 418.7,139.9 420.2,139.7 421.7,139.6 423.2,139.5 424.7,139.3 426.2,139.1 427.7,138.9 429.2,138.7 430.7,138.4 432.2,138.0 433.7,137.5 435.2,136.9 436.7,136.3 438.2,135.7 439.7,135.1 441.2,134.6 442.7,134.0 444.2,133.5 445.7,133.0 447.2,132.4 448.7,131.9 450.2,131.4 451.7,130.9 453.2,130.5 454.7,130.0 456.2,129.5 457.7,129.0 459.2,128.5 460.7,128.1 462.2,127.6 463.7,127.2 465.2,126.7 466.7,126.3 468.2,125.9 469.7,125.5 471.2,125.0 472.7,124.6 474.2,124.1 475.7,123.6 477.2,123.1 478.7,122.5 480.2,122.0 481.7,121.4 483.2,120.8 484.7,120.3 486.2,119.7 487.7,119.2 489.2,118.6 490.7,118.0 492.2,117.3 493.7,116.5 495.2,115.6 496.7,114.5 498.2,113.1 499.7,111.7 501.2,110.2 502.7,108.9 504.2,107.7 505.7,106.6 507.2,105.8 508.7,105.0 510.2,104.3 511.7,103.6 513.2,103.0 514.7,102.3 516.2,101.5 517.7,100.7 519.2,99.9 520.7,99.2 522.2,98.4 523.7,97.6 525.2,96.8 526.7,96.1 528.2,95.3 529.7,94.6 531.2,94.0 532.7,93.3 534.2,92.7 535.7,92.1 537.2,91.6 538.7,91.0 540.2,90.5 541.7,90.0 543.2,89.5 544.7,89.0 546.2,88.5 547.7,88.0 549.2,87.5 550.7,87.0 552.2,86.5 553.7,86.1 555.2,85.6 556.7,85.2 558.2,84.8 559.4,84.4"/>
<polyline fill="none" stroke="#0000ff" stroke-width="1.1" stroke-linejoin="round" points="13.7,161.6 15.2,161.6 16.7,161.6 18.2,161.6 19.7,161.6 21.2,161.6 22.7,161.5 24.2,161.5 25.7,161.5 27.2,161.5 28.7,161.5 30.2,161.5 31.7,161.5 33.2,161.5 34.7,161.5 36.2,161.5 37.7,161.4 39.2,161.4 40.7,161.4 42.2,161.4 43.7,161.3 45.2,161.3 46.7,161.3 48.2,161.2 49.7,161.2 51.2,161.2 52.7,161.1 54.2,161.1 55.7,161.0 57.2,161.0 58.7,160.9 60.2,160.9 61.7,160.8 63.2,160.7 64.7,160.7 66.2,160.6 67.7,160.5 69.2,160.5 70.7,160.4 72.2,160.4 73.7,160.3 75.2,160.3 76.7,160.3 78.2,160.3 79.7,160.2 81.2,160.2 82.7,160.2 84.2,160.2 85.7,160.2 87.2,160.3 88.7,160.3 90.2,160.3 91.7,160.3 93.2,160.4 94.7,160.4 96.2,160.5 97.7,160.6 99.2,160.8 100.7,160.9 102.2,161.1 103.7,161.3 105.2,161.4 106.7,161.6 108.2,161.8 109.7,162.1 111.2,162.3 112.7,162.5 114.2,162.8 115.7,163.1 117.2,163.3 118.7,163.6 120.2,164.0 121.7,164.3 123.2,164.7 124.7,165.0 126.2,165.3 127.7,165.7 129.2,166.0 130.7,166.3 132.2,166.6 133.7,166.9 135.2,167.2 136.7,167.5 138.2,167.8 139.7,168.2 141.2,168.5 142.7,168.8 144.2,169.1 145.7,169.4 147.2,169.7 148.7,170.0 150.2,170.3 151.7,170.7 153.2,171.0 154.7,171.3 156.2,171.7 157.7,172.0 159.2,172.3 160.7,172.5 162.2,172.8 163.7,173.0 165.2,173.2 166.7,173.4 168.2,173.6 169.7,173.8 171.2,173.9 172.7,174.1 174.2,174.2 175.7,174.3 177.2,174.4 178.7,174.5 180.2,174.6 181.7,174.7 183.2,174.7 184.7,174.8 186.2,174.8 187.7,174.8 189.2,174.9 190.7,174.9 192.2,174.9 193.7,174.9 195.2,174.9 196.7,174.9 198.2,174.9 199.7,174.9 201.2,174.9 202.7,174.9 204.2,174.9 205.7,174.9 207.2,174.9 208.7,174.8 210.2,174.8 211.7,174.8 213.2,174.8 214.7,174.7 216.2,174.7 217.7,174.7 219.2,174.7 220.7,174.6 222.2,174.6 223.7,174.6 225.2,174.6 226.7,174.5 228.2,174.5 229.7,174.5 231.2,174.4 232.7,174.4 234.2,174.4 235.7,174.4 237.2,174.3 238.7,174.3 240.2,174.3 241.7,174.2 243.2,174.2 244.7,174.2 246.2,174.1 247.7,174.1 249.2,174.1 250.7,174.1 252.2,174.0 253.7,174.0 255.2,174.0 256.7,173.9 258.2,173.9 259.7,173.9 261.2,173.8 262.7,173.8 264.2,173.8 265.7,173.8 267.2,173.7 268.7,173.7 270.2,173.7 271.7,173.6 273.2,173.6 274.7,173.6 276.2,173.6 277.7,173.5 279.2,173.5 280.7,173.5 282.2,173.4 283.7,173.4 285.2,173.3 286.7,173.3 288.2,173.3 289.7,173.2 291.2,173.2 292.7,173.1 294.2,173.1 295.7,173.0 297.2,173.0 298.7,172.9 300.2,172.9 301.7,172.8 303.2,172.8 304.7,172.7 306.2,172.7 307.7,172.6 309.2,172.5 310.7,172.5 312.2,172.4 313.7,172.4 315.2,172.3 316.7,172.2 318.2,172.2 319.7,172.1 321.2,172.1 322.7,172.0 324.2,171.9 325.7,171.9 327.2,171.8 328.7,171.7 330.2,171.7 331.7,171.6 333.2,171.5 334.7,171.5 336.2,171.4 337.7,171.3 339.2,171.3 340.7,171.2 342.2,171.1 343.7,171.1 345.2,171.0 346.7,170.9 348.2,170.8 349.7,170.8 351.2,170.7 352.7,170.6 354.2,170.5 355.7,170.4 357.2,170.3 358.7,170.2 360.2,170.1 361.7,170.0 363.2,169.9 364.7,169.8 366.2,169.7 367.7,169.6 369.2,169.4 370.7,169.3 372.2,169.2 373.7,169.0 375.2,168.9 376.7,168.7 378.2,168.6 379.7,168.4 381.2,168.3 382.7,168.1 384.2,168.0 385.7,167.8 387.2,167.7 388.7,167.5 390.2,167.4 391.7,167.3 393.2,167.1 394.7,167.0 396.2,166.9 397.7,166.8 399.2,166.7 400.7,166.7 402.2,166.6 403.7,166.5 405.2,166.5 406.7,166.4 408.2,166.4 409.7,166.3 411.2,166.3 412.7,166.3 414.2,166.3 415.7,166.3 417.2,166.2 418.7,166.1 420.2,165.9 421.7,165.7 423.2,165.4 424.7,165.0 426.2,164.7 427.7,164.3 429.2,164.0 430.7,163.7 432.2,163.3 433.7,162.9 435.2,162.4 436.7,161.7 438.2,160.9 439.7,160.1 441.2,159.4 442.7,158.9 444.2,158.4 445.7,157.9 447.2,157.5 448.7,157.0 450.2,156.5 451.7,155.9 453.2,155.2 454.7,154.6 456.2,153.9 457.7,153.3 459.2,152.6 460.7,152.0 462.2,151.4 463.7,150.9 465.2,150.4 466.7,149.8 468.2,149.3 469.7,148.7 471.2,148.2 472.7,147.6 474.2,147.0 475.7,146.4 477.2,145.8 478.7,145.2 480.2,144.6 481.7,144.0 483.2,143.5 484.7,142.9 486.2,142.4 487.7,141.9 489.2,141.3 490.7,140.8 492.2,140.3 493.7,139.8 495.2,139.2 496.7,138.7 498.2,138.2 499.7,137.7 501.2,137.1 502.7,136.6 504.2,136.1 505.7,135.6 507.2,135.1 508.7,134.6 510.2,134.1 511.7,133.6 513.2,133.1 514.7,132.6 516.2,132.2 517.7,131.8 519.2,131.3 520.7,130.9 522.2,130.5 523.7,130.1 525.2,129.8 526.7,129.4 528.2,129.0 529.7,128.6 531.2,128.3 532.7,127.9 534.2,127.6 535.7,127.3 537.2,127.0 538.7,126.7 540.2,126.4 541.7,126.1 543.2,125.8 544.7,125.5 546.2,125.2 547.7,124.9 549.2,124.5 550.7,124.2 552.2,123.8 553.7,123.4 555.2,123.1 556.7,122.7 558.2,122.3 559.4,122.0"/>
<rect x="10.5" y="269.5" width="115" height="43" fill="#f0f0f0" fill-opacity="0.86" stroke="#a8a8a8" stroke-width="1"/>
<text x="12.20" y="280.20" font-size="12.01" fill="#2a8a3a" textLength="35.62" lengthAdjust="spacingAndGlyphs">MA(5)</text>
<text x="64.24" y="280.20" font-size="12.01" fill="#2a8a3a" textLength="60.06" lengthAdjust="spacingAndGlyphs">27,552.42</text>
<text x="12.20" y="294.00" font-size="12.01" fill="#ff2020" textLength="42.99" lengthAdjust="spacingAndGlyphs">MA(25)</text>
<text x="64.24" y="294.00" font-size="12.01" fill="#ff2020" textLength="60.06" lengthAdjust="spacingAndGlyphs">27,375.74</text>
<text x="12.20" y="307.60" font-size="12.01" fill="#3030ff" textLength="42.99" lengthAdjust="spacingAndGlyphs">MA(75)</text>
<text x="64.24" y="307.60" font-size="12.01" fill="#3030ff" textLength="60.06" lengthAdjust="spacingAndGlyphs">26,085.12</text>
<text x="582.20" y="303.00" font-size="12.01" fill="#000" textLength="37.00" lengthAdjust="spacingAndGlyphs">20000</text>
<text x="582.20" y="274.00" font-size="12.01" fill="#000" textLength="37.00" lengthAdjust="spacingAndGlyphs">21000</text>
<text x="582.20" y="245.00" font-size="12.01" fill="#000" textLength="37.00" lengthAdjust="spacingAndGlyphs">22000</text>
<text x="582.20" y="215.00" font-size="12.01" fill="#000" textLength="37.00" lengthAdjust="spacingAndGlyphs">23000</text>
<text x="582.20" y="186.00" font-size="12.01" fill="#000" textLength="37.00" lengthAdjust="spacingAndGlyphs">24000</text>
<text x="582.20" y="157.00" font-size="12.01" fill="#000" textLength="37.00" lengthAdjust="spacingAndGlyphs">25000</text>
<text x="582.20" y="128.00" font-size="12.01" fill="#000" textLength="37.00" lengthAdjust="spacingAndGlyphs">26000</text>
<text x="582.20" y="99.00" font-size="12.01" fill="#000" textLength="37.00" lengthAdjust="spacingAndGlyphs">27000</text>
<text x="582.20" y="70.00" font-size="12.01" fill="#000" textLength="37.00" lengthAdjust="spacingAndGlyphs">28000</text>
<text x="95.70" y="321.00" font-size="10.60" fill="#000" textLength="6.20" lengthAdjust="spacingAndGlyphs">4</text>
<text x="95.70" y="406.00" font-size="10.60" fill="#000" textLength="6.20" lengthAdjust="spacingAndGlyphs">4</text>
<text x="187.70" y="321.00" font-size="10.60" fill="#000" textLength="6.20" lengthAdjust="spacingAndGlyphs">5</text>
<text x="187.70" y="406.00" font-size="10.60" fill="#000" textLength="6.20" lengthAdjust="spacingAndGlyphs">5</text>
<text x="274.70" y="321.00" font-size="10.60" fill="#000" textLength="6.20" lengthAdjust="spacingAndGlyphs">6</text>
<text x="274.70" y="406.00" font-size="10.60" fill="#000" textLength="6.20" lengthAdjust="spacingAndGlyphs">6</text>
<text x="366.70" y="321.00" font-size="10.60" fill="#000" textLength="6.20" lengthAdjust="spacingAndGlyphs">7</text>
<text x="366.70" y="406.00" font-size="10.60" fill="#000" textLength="6.20" lengthAdjust="spacingAndGlyphs">7</text>
<text x="462.70" y="321.00" font-size="10.60" fill="#000" textLength="6.20" lengthAdjust="spacingAndGlyphs">8</text>
<text x="462.70" y="406.00" font-size="10.60" fill="#000" textLength="6.20" lengthAdjust="spacingAndGlyphs">8</text>
<text x="549.70" y="321.00" font-size="10.60" fill="#000" textLength="6.20" lengthAdjust="spacingAndGlyphs">9</text>
<text x="549.70" y="406.00" font-size="10.60" fill="#000" textLength="6.20" lengthAdjust="spacingAndGlyphs">9</text>
<rect x="10.500" y="325.5" width="81" height="14" fill="#eeeeee" fill-opacity="0.9" stroke="#9a9a9a" stroke-width="1"/>
<text x="10.80" y="335.50" font-size="12.4" fill="#3030e0" textLength="36.00" lengthAdjust="spacingAndGlyphs" font-family="'Liberation Sans', 'Noto Sans CJK JP', sans-serif">出来高</text>
<text x="82.93" y="335.40" font-size="12.01" fill="#3030e0" textLength="7.37" lengthAdjust="spacingAndGlyphs">0</text>
<path d="M11.0,448.0 L11.0,438.6 L12.7,438.7 L14.1,438.8 L15.5,439.4 L17.0,439.7 L18.4,439.3 L19.8,439.2 L21.3,440.1 L22.7,439.3 L24.1,439.1 L25.5,439.9 L26.9,439.2 L28.2,439.5 L29.6,439.0 L31.0,439.1 L32.3,438.4 L33.7,438.9 L35.1,439.0 L36.4,438.5 L37.8,438.7 L39.2,438.5 L40.6,437.6 L41.9,438.3 L43.3,438.0 L44.7,437.6 L46.2,437.2 L47.6,438.1 L49.0,437.5 L50.5,437.7 L51.9,437.8 L53.3,437.5 L54.8,437.7 L56.3,437.3 L57.8,438.0 L59.4,437.8 L60.9,438.6 L62.4,438.8 L63.9,437.9 L65.3,438.0 L66.7,438.1 L68.2,439.1 L69.6,438.5 L71.0,438.7 L72.5,438.4 L73.9,438.7 L75.4,438.5 L77.0,438.4 L78.5,438.6 L80.0,438.5 L81.6,438.8 L83.1,438.4 L84.6,438.7 L86.2,438.5 L87.7,438.6 L89.2,438.1 L90.8,437.4 L92.3,438.1 L93.8,438.0 L95.4,437.8 L96.9,437.2 L98.4,437.3 L99.9,436.5 L101.5,437.1 L103.0,436.6 L104.5,436.1 L106.1,436.1 L107.6,437.3 L109.1,437.7 L110.7,436.8 L112.2,437.9 L113.7,437.4 L115.3,437.1 L116.8,437.3 L118.3,437.9 L119.9,438.0 L121.4,436.8 L122.9,437.2 L124.4,436.3 L126.0,436.9 L127.5,436.2 L129.0,436.7 L130.6,436.7 L132.1,435.9 L133.6,436.4 L135.2,435.4 L136.7,434.9 L138.2,435.3 L139.8,434.4 L141.3,434.3 L142.8,434.4 L144.4,434.4 L145.9,433.6 L147.4,433.2 L149.0,434.0 L150.5,433.1 L152.0,433.7 L153.5,433.3 L155.1,432.5 L156.6,432.4 L158.1,432.2 L159.7,432.4 L161.2,432.5 L162.7,432.5 L164.3,432.6 L165.8,433.1 L167.3,432.7 L168.9,432.6 L170.4,433.1 L171.9,432.6 L173.5,432.7 L175.0,433.5 L176.5,433.0 L178.0,433.0 L179.6,432.4 L181.1,432.8 L182.6,433.0 L184.2,432.2 L185.7,432.9 L187.2,432.8 L188.8,432.0 L190.3,432.6 L191.8,432.2 L193.4,432.3 L194.9,431.8 L196.4,432.0 L198.3,431.5 L200.3,430.1 L201.7,430.3 L203.1,431.2 L204.6,431.8 L206.0,431.1 L207.4,431.5 L208.7,431.9 L210.1,431.7 L211.5,431.9 L212.8,432.0 L214.2,432.2 L215.6,432.7 L217.0,432.5 L218.4,432.8 L219.9,433.5 L221.3,432.8 L222.7,433.3 L224.2,433.4 L225.6,432.8 L227.1,432.6 L228.6,433.1 L230.1,432.2 L231.6,431.9 L233.2,432.0 L234.7,432.0 L236.2,431.2 L237.8,431.3 L239.3,431.1 L240.8,431.6 L242.4,431.0 L243.9,431.6 L245.4,430.9 L247.0,431.3 L248.5,431.8 L250.0,432.3 L240.0,431.0 L241.4,430.9 L242.9,431.0 L244.3,431.6 L245.7,431.4 L247.2,432.4 L248.6,432.6 L250.0,432.0 L251.5,432.3 L252.9,432.9 L254.2,432.7 L255.6,432.9 L257.0,432.4 L258.3,432.1 L259.7,432.3 L261.1,432.9 L262.4,431.5 L263.7,430.8 L265.1,430.7 L266.5,430.5 L267.9,430.2 L269.2,430.6 L270.6,429.5 L272.2,429.1 L273.7,430.0 L275.2,429.7 L276.8,429.6 L278.3,428.7 L279.7,429.1 L281.0,428.9 L282.4,427.9 L283.8,428.4 L285.1,428.3 L286.5,427.9 L287.9,427.6 L289.2,427.2 L290.6,427.2 L292.0,426.9 L293.3,426.6 L294.7,427.1 L296.1,426.7 L297.4,427.2 L299.0,426.4 L300.5,427.5 L302.0,427.3 L303.6,427.6 L305.1,427.7 L306.5,427.6 L308.0,427.2 L309.4,426.5 L310.8,427.3 L312.3,426.6 L313.7,426.7 L315.1,427.1 L316.6,426.9 L318.0,426.9 L319.4,427.7 L320.9,427.5 L322.3,427.4 L323.7,427.4 L325.2,428.2 L326.6,427.8 L328.1,428.3 L329.5,427.7 L330.9,427.4 L332.4,427.7 L333.8,428.0 L335.2,427.1 L336.7,427.7 L338.1,427.8 L339.5,427.6 L341.1,427.3 L342.6,426.0 L344.1,426.4 L345.7,426.4 L347.2,425.1 L348.7,425.2 L350.3,425.1 L351.8,425.2 L353.3,425.0 L354.9,424.9 L356.3,425.2 L357.7,424.3 L359.2,424.4 L360.6,424.5 L362.0,424.6 L363.5,424.6 L364.9,425.8 L366.3,425.7 L368.3,425.8 L370.2,427.2 L372.1,428.5 L374.0,432.3 L375.9,430.1 L377.8,428.9 L379.4,428.8 L380.9,428.4 L382.4,428.1 L384.0,428.2 L385.5,427.9 L387.0,428.5 L388.5,428.8 L390.1,428.4 L391.6,428.2 L393.1,428.4 L394.6,428.4 L396.0,428.5 L397.4,428.5 L398.9,427.8 L400.3,428.1 L401.8,427.7 L403.2,427.3 L404.6,427.1 L406.2,427.3 L407.7,427.6 L409.2,427.3 L410.8,427.7 L412.3,427.5 L413.8,427.4 L415.3,427.8 L416.9,428.1 L418.4,427.4 L419.9,427.9 L421.4,427.7 L422.8,428.0 L424.2,427.9 L425.7,427.1 L427.1,427.6 L428.6,427.4 L430.0,426.6 L431.4,426.8 L433.0,426.4 L434.5,427.4 L436.0,427.2 L437.5,427.6 L439.1,427.6 L440.4,427.4 L441.8,427.5 L443.2,427.3 L444.6,426.7 L445.9,427.3 L447.3,426.6 L448.7,426.8 L450.6,427.3 L452.5,426.3 L454.4,425.6 L455.9,425.6 L457.5,426.5 L459.0,425.7 L460.5,425.5 L462.1,426.5 L463.6,425.6 L465.1,426.5 L466.6,426.3 L468.2,426.5 L469.7,426.6 L471.2,426.4 L472.8,426.9 L474.3,426.3 L481.5,426.2 L481.5,448.0 Z" fill="#ebebeb"/>
<polyline fill="none" stroke="#848484" stroke-width="1.4" stroke-linejoin="round" points="11.0,438.6 12.7,438.7 14.1,438.8 15.5,439.4 17.0,439.7 18.4,439.3 19.8,439.2 21.3,440.1 22.7,439.3 24.1,439.1 25.5,439.9 26.9,439.2 28.2,439.5 29.6,439.0 31.0,439.1 32.3,438.4 33.7,438.9 35.1,439.0 36.4,438.5 37.8,438.7 39.2,438.5 40.6,437.6 41.9,438.3 43.3,438.0 44.7,437.6 46.2,437.2 47.6,438.1 49.0,437.5 50.5,437.7 51.9,437.8 53.3,437.5 54.8,437.7 56.3,437.3 57.8,438.0 59.4,437.8 60.9,438.6 62.4,438.8 63.9,437.9 65.3,438.0 66.7,438.1 68.2,439.1 69.6,438.5 71.0,438.7 72.5,438.4 73.9,438.7 75.4,438.5 77.0,438.4 78.5,438.6 80.0,438.5 81.6,438.8 83.1,438.4 84.6,438.7 86.2,438.5 87.7,438.6 89.2,438.1 90.8,437.4 92.3,438.1 93.8,438.0 95.4,437.8 96.9,437.2 98.4,437.3 99.9,436.5 101.5,437.1 103.0,436.6 104.5,436.1 106.1,436.1 107.6,437.3 109.1,437.7 110.7,436.8 112.2,437.9 113.7,437.4 115.3,437.1 116.8,437.3 118.3,437.9 119.9,438.0 121.4,436.8 122.9,437.2 124.4,436.3 126.0,436.9 127.5,436.2 129.0,436.7 130.6,436.7 132.1,435.9 133.6,436.4 135.2,435.4 136.7,434.9 138.2,435.3 139.8,434.4 141.3,434.3 142.8,434.4 144.4,434.4 145.9,433.6 147.4,433.2 149.0,434.0 150.5,433.1 152.0,433.7 153.5,433.3 155.1,432.5 156.6,432.4 158.1,432.2 159.7,432.4 161.2,432.5 162.7,432.5 164.3,432.6 165.8,433.1 167.3,432.7 168.9,432.6 170.4,433.1 171.9,432.6 173.5,432.7 175.0,433.5 176.5,433.0 178.0,433.0 179.6,432.4 181.1,432.8 182.6,433.0 184.2,432.2 185.7,432.9 187.2,432.8 188.8,432.0 190.3,432.6 191.8,432.2 193.4,432.3 194.9,431.8 196.4,432.0 198.3,431.5 200.3,430.1 201.7,430.3 203.1,431.2 204.6,431.8 206.0,431.1 207.4,431.5 208.7,431.9 210.1,431.7 211.5,431.9 212.8,432.0 214.2,432.2 215.6,432.7 217.0,432.5 218.4,432.8 219.9,433.5 221.3,432.8 222.7,433.3 224.2,433.4 225.6,432.8 227.1,432.6 228.6,433.1 230.1,432.2 231.6,431.9 233.2,432.0 234.7,432.0 236.2,431.2 237.8,431.3 239.3,431.1 240.8,431.6 242.4,431.0 243.9,431.6 245.4,430.9 247.0,431.3 248.5,431.8 250.0,432.3 240.0,431.0 241.4,430.9 242.9,431.0 244.3,431.6 245.7,431.4 247.2,432.4 248.6,432.6 250.0,432.0 251.5,432.3 252.9,432.9 254.2,432.7 255.6,432.9 257.0,432.4 258.3,432.1 259.7,432.3 261.1,432.9 262.4,431.5 263.7,430.8 265.1,430.7 266.5,430.5 267.9,430.2 269.2,430.6 270.6,429.5 272.2,429.1 273.7,430.0 275.2,429.7 276.8,429.6 278.3,428.7 279.7,429.1 281.0,428.9 282.4,427.9 283.8,428.4 285.1,428.3 286.5,427.9 287.9,427.6 289.2,427.2 290.6,427.2 292.0,426.9 293.3,426.6 294.7,427.1 296.1,426.7 297.4,427.2 299.0,426.4 300.5,427.5 302.0,427.3 303.6,427.6 305.1,427.7 306.5,427.6 308.0,427.2 309.4,426.5 310.8,427.3 312.3,426.6 313.7,426.7 315.1,427.1 316.6,426.9 318.0,426.9 319.4,427.7 320.9,427.5 322.3,427.4 323.7,427.4 325.2,428.2 326.6,427.8 328.1,428.3 329.5,427.7 330.9,427.4 332.4,427.7 333.8,428.0 335.2,427.1 336.7,427.7 338.1,427.8 339.5,427.6 341.1,427.3 342.6,426.0 344.1,426.4 345.7,426.4 347.2,425.1 348.7,425.2 350.3,425.1 351.8,425.2 353.3,425.0 354.9,424.9 356.3,425.2 357.7,424.3 359.2,424.4 360.6,424.5 362.0,424.6 363.5,424.6 364.9,425.8 366.3,425.7 368.3,425.8 370.2,427.2 372.1,428.5 374.0,432.3 375.9,430.1 377.8,428.9 379.4,428.8 380.9,428.4 382.4,428.1 384.0,428.2 385.5,427.9 387.0,428.5 388.5,428.8 390.1,428.4 391.6,428.2 393.1,428.4 394.6,428.4 396.0,428.5 397.4,428.5 398.9,427.8 400.3,428.1 401.8,427.7 403.2,427.3 404.6,427.1 406.2,427.3 407.7,427.6 409.2,427.3 410.8,427.7 412.3,427.5 413.8,427.4 415.3,427.8 416.9,428.1 418.4,427.4 419.9,427.9 421.4,427.7 422.8,428.0 424.2,427.9 425.7,427.1 427.1,427.6 428.6,427.4 430.0,426.6 431.4,426.8 433.0,426.4 434.5,427.4 436.0,427.2 437.5,427.6 439.1,427.6 440.4,427.4 441.8,427.5 443.2,427.3 444.6,426.7 445.9,427.3 447.3,426.6 448.7,426.8 450.6,427.3 452.5,426.3 454.4,425.6 455.9,425.6 457.5,426.5 459.0,425.7 460.5,425.5 462.1,426.5 463.6,425.6 465.1,426.5 466.6,426.3 468.2,426.5 469.7,426.6 471.2,426.4 472.8,426.9 474.3,426.3 481.5,426.2"/>
<path d="M481.5,448.0 L481.5,426.4 L483.2,426.4 L485.0,426.7 L486.9,425.6 L488.7,425.6 L490.4,426.2 L492.0,425.8 L493.8,426.4 L495.5,427.1 L497.5,429.8 L499.3,432.3 L500.3,430.9 L501.4,430.3 L502.7,430.3 L504.0,430.0 L505.6,429.3 L507.3,428.9 L509.1,428.4 L511.0,427.9 L512.9,427.4 L514.7,426.6 L516.4,426.9 L518.0,427.2 L519.3,426.7 L520.7,426.9 L522.0,426.3 L523.5,426.7 L525.0,426.7 L526.5,426.5 L528.0,426.3 L529.5,426.2 L531.0,426.3 L532.4,426.4 L533.9,425.7 L535.3,425.6 L536.6,426.1 L538.0,426.2 L539.6,425.7 L541.2,425.5 L542.8,425.6 L544.2,425.1 L545.6,425.1 L547.0,424.9 L548.5,425.1 L550.1,424.6 L551.6,424.4 L554.0,425.2 L555.8,425.2 L557.5,424.4 L560.0,424.4 L561.8,423.9 L563.5,424.0 L565.5,423.3 L567.9,422.3 L570.0,422.5 L572.3,422.7 L574.1,422.9 L576.0,422.7 L577.5,422.4 L579.0,422.5 L579.0,448.0 Z" fill="#b4bcf4"/>
<polyline fill="none" stroke="#6068c4" stroke-width="1.4" stroke-linejoin="round" points="481.5,426.4 483.2,426.4 485.0,426.7 486.9,425.6 488.7,425.6 490.4,426.2 492.0,425.8 493.8,426.4 495.5,427.1 497.5,429.8 499.3,432.3 500.3,430.9 501.4,430.3 502.7,430.3 504.0,430.0 505.6,429.3 507.3,428.9 509.1,428.4 511.0,427.9 512.9,427.4 514.7,426.6 516.4,426.9 518.0,427.2 519.3,426.7 520.7,426.9 522.0,426.3 523.5,426.7 525.0,426.7 526.5,426.5 528.0,426.3 529.5,426.2 531.0,426.3 532.4,426.4 533.9,425.7 535.3,425.6 536.6,426.1 538.0,426.2 539.6,425.7 541.2,425.5 542.8,425.6 544.2,425.1 545.6,425.1 547.0,424.9 548.5,425.1 550.1,424.6 551.6,424.4 554.0,425.2 555.8,425.2 557.5,424.4 560.0,424.4 561.8,423.9 563.5,424.0 565.5,423.3 567.9,422.3 570.0,422.5 572.3,422.7 574.1,422.9 576.0,422.7 577.5,422.4 579.0,422.5"/>
<text x="73.40" y="443.60" font-size="10.40" fill="#000" textLength="12.20" lengthAdjust="spacingAndGlyphs">23</text>
<text x="262.60" y="443.60" font-size="10.40" fill="#000" textLength="12.20" lengthAdjust="spacingAndGlyphs">24</text>
<text x="451.40" y="443.60" font-size="10.40" fill="#000" textLength="12.20" lengthAdjust="spacingAndGlyphs">25</text>
<g fill="#fff" shape-rendering="crispEdges"><rect x="73" y="420" width="1" height="28"/><rect x="262" y="420" width="1" height="28"/><rect x="451" y="420" width="1" height="28"/></g>
<rect x="11" y="448" width="568" height="11" fill="url(#gs)"/>
<rect x="11" y="448" width="568" height="1" fill="#000" shape-rendering="crispEdges"/>
<rect x="489.5" y="448.5" width="81" height="11" fill="url(#gt)" stroke="#000" stroke-width="1"/>
<g fill="#1e9ad6" shape-rendering="crispEdges"><rect x="481" y="411" width="1" height="37"/><rect x="579" y="411" width="1" height="37"/></g>
<rect x="475.5" y="415.5" width="13" height="29" fill="url(#gh)" stroke="#000" stroke-width="1"/>
<path d="M479.6,429.5 L484.2,425 L484.2,434 Z" fill="#000"/>
<rect x="572.5" y="415.5" width="13" height="29" fill="url(#gh)" stroke="#000" stroke-width="1"/>
<path d="M581.4,429.5 L576.8,425 L576.8,434 Z" fill="#000"/>
<g fill="#000" shape-rendering="crispEdges">
<rect x="10" y="10" width="631" height="1"/>
<rect x="10" y="29" width="631" height="1"/>
<rect x="10" y="10" width="1" height="450"/>
<rect x="640" y="10" width="1" height="450"/>
<rect x="10" y="459" width="631" height="1"/>
<rect x="579" y="29" width="1" height="284"/>
<rect x="125" y="312" width="516" height="1"/>
<rect x="92" y="325" width="549" height="1"/>
<rect x="579" y="325" width="1" height="73"/>
<rect x="10" y="397" width="631" height="1"/>
<rect x="10" y="410" width="631" height="1"/>
<rect x="579" y="448" width="1" height="11"/>
</g>
<text x="12.00" y="25.40" font-size="12.8" fill="#000" textLength="25.00" lengthAdjust="spacingAndGlyphs" font-family="'Liberation Sans', 'Noto Sans CJK JP', sans-serif">日付</text>
<text x="41.20" y="23.90" font-size="13.80" fill="#000" textLength="127.00" lengthAdjust="spacingAndGlyphs">2025/09/03 15:30</text>
<text x="172.40" y="25.40" font-size="12.6" fill="#000" textLength="24.00" lengthAdjust="spacingAndGlyphs" font-family="'Liberation Sans', 'Noto Sans CJK JP', sans-serif">始値</text>
<text x="201.00" y="23.90" font-size="13.80" fill="#000" textLength="75.50" lengthAdjust="spacingAndGlyphs" font-weight="bold">27,566.79</text>
<text x="280.20" y="25.40" font-size="12.6" fill="#000" textLength="24.00" lengthAdjust="spacingAndGlyphs" font-family="'Liberation Sans', 'Noto Sans CJK JP', sans-serif">高値</text>
<text x="309.20" y="23.90" font-size="13.80" fill="#ff0000" textLength="75.90" lengthAdjust="spacingAndGlyphs" font-weight="bold">27,623.93</text>
<text x="389.10" y="25.40" font-size="12.6" fill="#000" textLength="24.00" lengthAdjust="spacingAndGlyphs" font-family="'Liberation Sans', 'Noto Sans CJK JP', sans-serif">安値</text>
<text x="417.00" y="23.90" font-size="13.80" fill="#006400" textLength="74.60" lengthAdjust="spacingAndGlyphs" font-weight="bold">27,307.11</text>
<text x="496.30" y="25.40" font-size="12.6" fill="#000" textLength="24.00" lengthAdjust="spacingAndGlyphs" font-family="'Liberation Sans', 'Noto Sans CJK JP', sans-serif">終値</text>
<text x="524.70" y="23.90" font-size="13.80" fill="#000" textLength="75.30" lengthAdjust="spacingAndGlyphs" font-weight="bold">27,360.12</text>
</svg>
</body></html>
